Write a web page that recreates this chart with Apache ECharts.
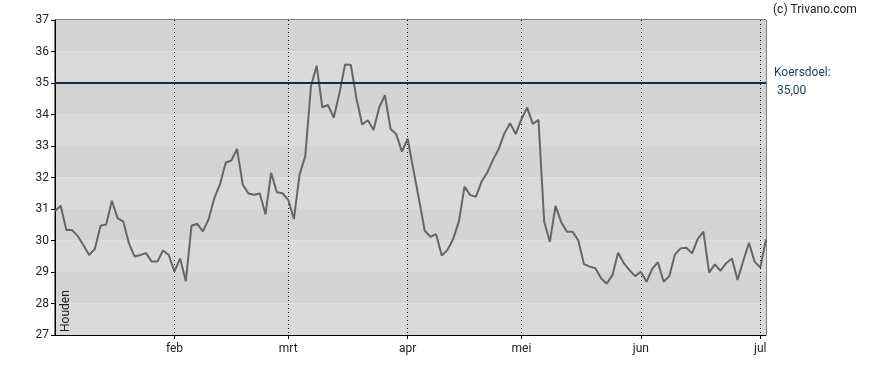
<!DOCTYPE html>
<html>
<head>
<meta charset="utf-8">
<script src="https://cdn.jsdelivr.net/npm/echarts@6/dist/echarts.min.js"></script>
<style>html,body{margin:0;padding:0;background:#fff;}#c{width:888px;height:370px;}</style>
</head>
<body>
<div id="c"></div>
<script>
const dates = [
'2025-01-03','2025-01-06','2025-01-07','2025-01-08','2025-01-09','2025-01-10','2025-01-13','2025-01-14','2025-01-15','2025-01-16','2025-01-17','2025-01-20','2025-01-21','2025-01-22','2025-01-23','2025-01-24','2025-01-27','2025-01-28','2025-01-29','2025-01-30','2025-01-31',
'2025-02-03','2025-02-04','2025-02-05','2025-02-06','2025-02-07','2025-02-10','2025-02-11','2025-02-12','2025-02-13','2025-02-14','2025-02-17','2025-02-18','2025-02-19','2025-02-20','2025-02-21','2025-02-24','2025-02-25','2025-02-26','2025-02-27','2025-02-28',
'2025-03-03','2025-03-04','2025-03-05','2025-03-06','2025-03-07','2025-03-10','2025-03-11','2025-03-12','2025-03-13','2025-03-14','2025-03-17','2025-03-18','2025-03-19','2025-03-20','2025-03-21','2025-03-24','2025-03-25','2025-03-26','2025-03-27','2025-03-28','2025-03-31',
'2025-04-01','2025-04-02','2025-04-03','2025-04-04','2025-04-07','2025-04-08','2025-04-09','2025-04-10','2025-04-11','2025-04-14','2025-04-15','2025-04-16','2025-04-17','2025-04-22','2025-04-23','2025-04-24','2025-04-25','2025-04-28','2025-04-29','2025-04-30',
'2025-05-02','2025-05-05','2025-05-06','2025-05-07','2025-05-08','2025-05-09','2025-05-12','2025-05-13','2025-05-14','2025-05-15','2025-05-16','2025-05-19','2025-05-20','2025-05-21','2025-05-22','2025-05-23','2025-05-26','2025-05-27','2025-05-28','2025-05-29','2025-05-30',
'2025-06-02','2025-06-03','2025-06-04','2025-06-05','2025-06-06','2025-06-09','2025-06-10','2025-06-11','2025-06-12','2025-06-13','2025-06-16','2025-06-17','2025-06-18','2025-06-19','2025-06-20','2025-06-23','2025-06-24','2025-06-25','2025-06-26','2025-06-27','2025-06-30',
'2025-07-01','2025-07-02'
];
const prices = [
30.94,31.1,30.33,30.33,30.14,29.85,29.54,29.73,30.47,30.51,31.26,30.71,30.6,29.91,29.49,29.54,29.6,29.33,29.33,29.68,29.54,
29.01,29.43,28.71,30.47,30.53,30.29,30.67,31.34,31.78,32.47,32.54,32.91,31.78,31.49,31.45,31.49,30.83,32.15,31.53,31.5,
31.29,30.68,32.1,32.68,34.9,35.55,34.23,34.3,33.9,34.67,35.59,35.58,34.51,33.68,33.82,33.51,34.23,34.61,33.54,33.37,32.82,
33.23,32.25,31.3,30.31,30.12,30.2,29.52,29.7,30.05,30.6,31.71,31.44,31.39,31.87,32.16,32.56,32.9,33.4,33.72,33.38,
33.85,34.22,33.7,33.83,30.6,29.96,31.1,30.58,30.28,30.28,30.0,29.25,29.17,29.12,28.8,28.63,28.9,29.61,29.28,29.06,28.87,
29.01,28.69,29.1,29.31,28.69,28.87,29.56,29.75,29.77,29.59,30.05,30.28,28.98,29.24,29.04,29.28,29.43,28.75,29.35,29.93,29.33,
29.14,30.04
];
const monthNames = ['jan','feb','mrt','apr','mei','jun','jul','aug','sep','okt','nov','dec'];
const target = 35;
const targetLabel = 'Koersdoel:';
const targetText = '35,00';
const adviceText = 'Houden';
const yMin = 27, yMax = 37;

function isMonthStart(i) {
  if (i === 0) return false;
  return dates[i].slice(5, 7) !== dates[i - 1].slice(5, 7);
}

const chart = echarts.init(document.getElementById('c'), null, {renderer: 'canvas'});
const font = 'Roboto, "Liberation Sans", Arial, sans-serif';
chart.setOption({
  animation: false,
  grid: {left: 55, top: 20, right: 122, bottom: 35, show: true, borderColor: '#000', borderWidth: 1, backgroundColor: 'transparent'},
  xAxis: {
    type: 'category',
    data: dates,
    boundaryGap: false,
    axisLine: {show: true, lineStyle: {color: '#000'}},
    axisTick: {show: true, length: 4, lineStyle: {color: '#000'}, interval: (i) => isMonthStart(i)},
    axisLabel: {
      interval: (i) => isMonthStart(i),
      formatter: (v) => monthNames[parseInt(v.slice(5, 7), 10) - 1],
      color: '#222', fontSize: 12, fontFamily: font, margin: 8
    },
    splitLine: {show: true, interval: (i) => isMonthStart(i), lineStyle: {color: '#000', type: [1, 3], width: 1}}
  },
  yAxis: {
    type: 'value',
    min: yMin, max: yMax, interval: 1,
    axisLine: {show: true, lineStyle: {color: '#000'}},
    axisTick: {show: true, length: 4, lineStyle: {color: '#000'}},
    axisLabel: {color: '#222', fontSize: 12, fontFamily: font, margin: 6},
    splitLine: {show: false},
    splitArea: {show: true, areaStyle: {color: ['#dadada', '#d3d3d3']}}
  },
  series: [{
    type: 'line',
    data: prices,
    showSymbol: false,
    lineStyle: {color: '#666666', width: 2},
    z: 3,
    markLine: {
      silent: true,
      symbol: 'none',
      label: {show: false},
      lineStyle: {color: '#0d2e4a', width: 2, type: 'solid'},
      data: [{yAxis: target}],
      z: 4
    }
  }],
  graphic: [
    {type: 'text', z: 100, left: 773, top: 4, style: {text: '(c) Trivano.com', font: '12px ' + font, fill: '#222'}},
    {type: 'text', z: 100, left: 774, top: 67, style: {text: targetLabel, font: '12px ' + font, fill: '#1c3d5e'}},
    {type: 'text', z: 100, left: 777, top: 85, style: {text: targetText, font: '12px ' + font, fill: '#1c3d5e'}},
    {type: 'text', z: 100, x: 59.5, y: 332, rotation: Math.PI / 2, style: {text: adviceText, font: '12px ' + font, fill: '#222', textAlign: 'left', textVerticalAlign: 'top'}}
  ]
});
</script>
</body>
</html>
